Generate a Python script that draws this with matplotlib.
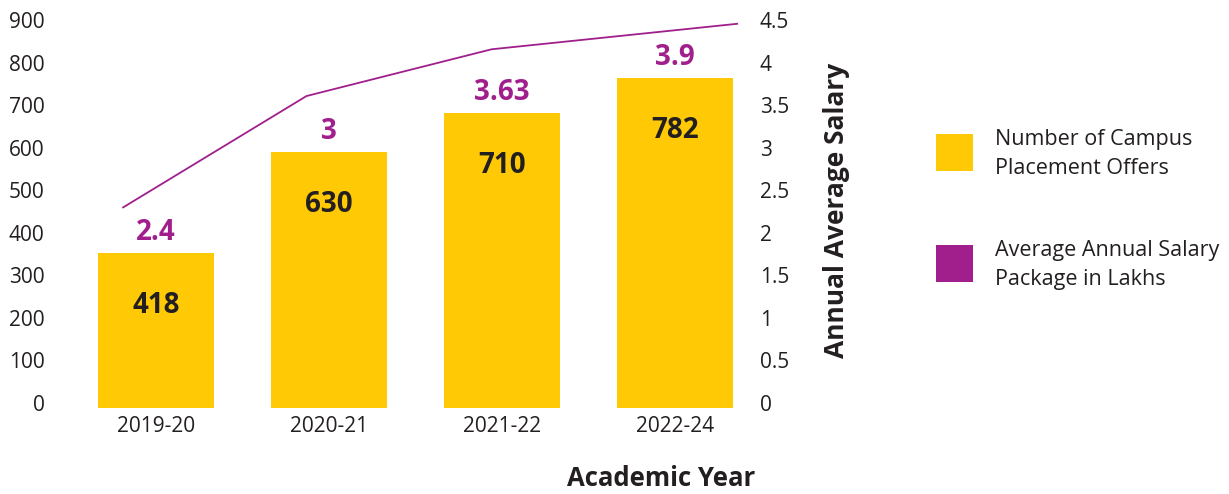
"""Campus placement offers vs average salary, bar + line on twin axes."""

import matplotlib
import numpy as np

matplotlib.use("Agg")
import matplotlib.pyplot as plt  # noqa: E402
from matplotlib.patches import Rectangle  # noqa: E402
from matplotlib.transforms import ScaledTranslation  # noqa: E402

YELLOW = "#FFCA05"
PURPLE = "#A01F8C"
INK = "#231F20"

plt.rcParams["font.family"] = ["Open Sans", "DejaVu Sans"]

years = ["2019-20", "2020-21", "2021-22", "2022-24"]
# bar heights as drawn in the source graphic, and the numbers printed on them
offers_drawn = [365, 602, 694, 776]
offers_label = ["418", "630", "710", "782"]
# salary line as drawn (x in category units, y in lakhs) and the printed values
salary_x = [-0.19, 0.87, 1.94, 3.36]
salary_drawn = [2.36, 3.67, 4.22, 4.52]
salary_label = ["2.4", "3", "3.63", "3.9"]

left_ticks = list(range(0, 1000, 100))
right_ticks = [0, 0.5, 1, 1.5, 2, 2.5, 3, 3.5, 4, 4.5]
right_ticklabels = ["0", "0.5", "1", "1.5", "2", "2.5", "3", "3.5", "4", "4.5"]

fig = plt.figure(figsize=(12.29, 4.94), dpi=100)
ax = fig.add_axes([60 / 1229, 0.1741, 690 / 1229, 0.7743])
ax2 = ax.twinx()

x = np.arange(len(years))
ax.bar(x, offers_drawn, width=0.67, color=YELLOW, zorder=2)
ax.set_xlim(-0.555, 3.434)
ax.set_ylim(0, 900)
ax2.set_ylim(0, 4.5)

for xi, h, lab in zip(x, offers_drawn, offers_label):
    ax.annotate(lab, (xi, h), xytext=(0, -38), textcoords="offset points",
                ha="center", va="center", fontsize=20, fontweight="bold", color=INK)
    ax.annotate(salary_label[xi], (xi, h), xytext=(0, 15), textcoords="offset points",
                ha="center", va="center", fontsize=20, fontweight="bold", color=PURPLE)

ax2.plot(salary_x, salary_drawn, color=PURPLE, lw=1.3, clip_on=False)

for a in (ax, ax2):
    for s in a.spines.values():
        s.set_visible(False)
    a.tick_params(length=0, labelsize=15, labelcolor=INK)

ax.set_xticks(x, years)
ax.tick_params(axis="x", pad=6)
ax.set_yticks(left_ticks)
ax.tick_params(axis="y", pad=11)
ax2.set_yticks(right_ticks, right_ticklabels)
ax2.tick_params(axis="y", pad=7)

shift = ScaledTranslation(0, 0.05, fig.dpi_scale_trans)
for lab in ax.get_yticklabels() + ax2.get_yticklabels():
    lab.set_transform(lab.get_transform() + shift)

fig.text(661 / 1229, 1 - 478 / 494, "Academic Year", ha="center", va="center",
         fontsize=18.5, fontweight="bold", color=INK)
fig.text(837 / 1229, 1 - 210 / 494, "Annual Average Salary", ha="center", va="center",
         rotation=90, fontsize=19, fontweight="bold", color=INK)

# legend drawn by hand to sit like the original
legend = [(YELLOW, "Number of Campus\nPlacement Offers", 134),
          (PURPLE, "Average Annual Salary\nPackage in Lakhs", 245)]
for col, text, top in legend:
    fig.add_artist(Rectangle((936 / 1229, 1 - (top + 37) / 494), 37 / 1229, 37 / 494,
                             transform=fig.transFigure, color=col, lw=0))
    fig.text(995 / 1229, 1 - (top + 20) / 494, text, ha="left", va="center",
             fontsize=15.5, color=INK, linespacing=1.45)

fig.savefig("out.png", dpi=100, facecolor="white")
